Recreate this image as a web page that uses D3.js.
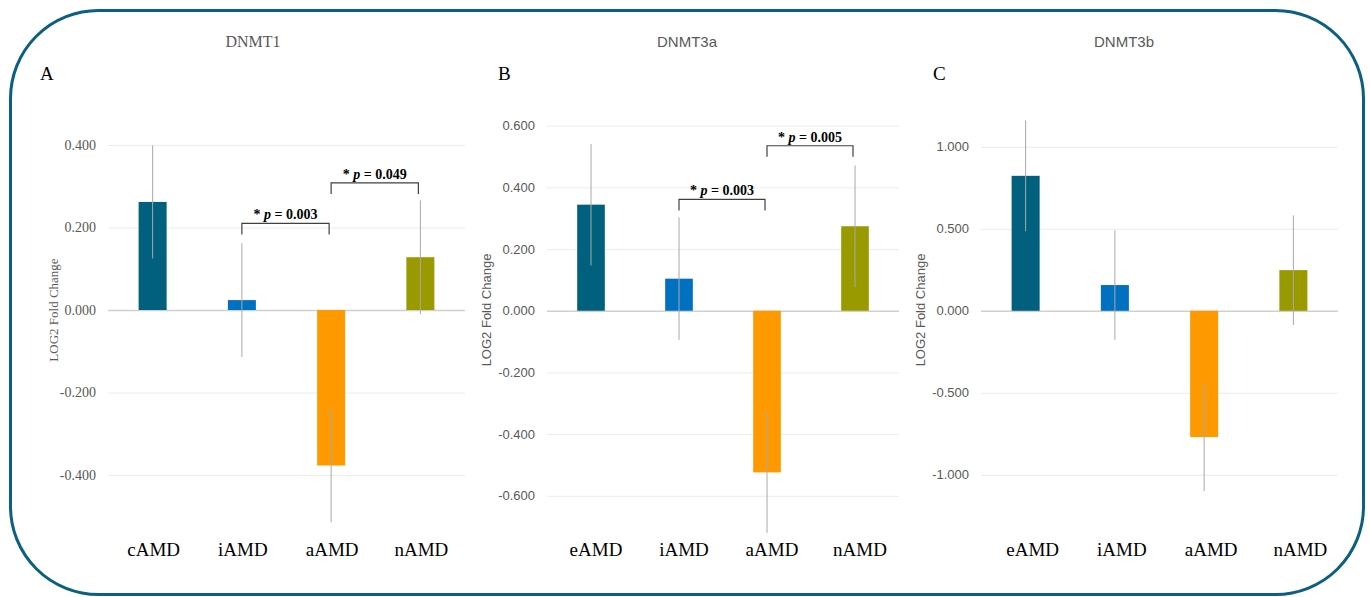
<!DOCTYPE html>
<html>
<head>
<meta charset="utf-8">
<script src="https://cdn.jsdelivr.net/npm/d3@7"></script>
<style>
  body { margin: 0; background: #fff; }
  svg { display: block; }
</style>
</head>
<body>
<svg id="chart" width="1370" height="597"></svg>
<script>
// groups (panel A uses cAMD, panels B and C use eAMD)
var groupsA = ["cAMD", "iAMD", "aAMD", "nAMD"];
var groupsBC = ["eAMD", "iAMD", "aAMD", "nAMD"];
var colors = ["#02607f", "#0070c0", "#ff9900", "#999900"];

// LOG2 fold change and error
var dnmt1 = [0.262, 0.024, -0.377, 0.128];
var dnmt1Err = [0.137, 0.138, 0.138, 0.138];
var dnmt3a = [0.344, 0.104, -0.524, 0.274];
var dnmt3aErr = [0.197, 0.199, 0.196, 0.197];
var dnmt3b = [0.823, 0.157, -0.770, 0.248];
var dnmt3bErr = [0.338, 0.334, 0.330, 0.334];

var ticksA = [-0.4, -0.2, 0, 0.2, 0.4];
var ticksB = [-0.6, -0.4, -0.2, 0, 0.2, 0.4, 0.6];
var ticksC = [-1, -0.5, 0, 0.5, 1];

var sigA = [{from: "iAMD", to: "aAMD", y: 0.21, p: "0.003"}, {from: "aAMD", to: "nAMD", y: 0.308, p: "0.049"}];
var sigB = [{from: "iAMD", to: "aAMD", y: 0.361, p: "0.003"}, {from: "aAMD", to: "nAMD", y: 0.535, p: "0.005"}];

var svg = d3.select("#chart");
var serif = "'Liberation Serif', 'Times New Roman', serif";
var sans = "'Liberation Sans', Arial, sans-serif";

// frame
svg.append("rect")
  .attr("x", 10.5).attr("y", 10.5)
  .attr("width", 1353).attr("height", 584)
  .attr("rx", 88).attr("ry", 88)
  .attr("fill", "none")
  .attr("stroke", "#0b5f80")
  .attr("stroke-width", 3);

var panels = [
  {title: "DNMT1", letter: "A", groups: groupsA, vals: dnmt1, err: dnmt1Err, ticks: ticksA, sig: sigA,
   x0: 108, x1: 465, dom: [-0.6, 0.6], rng: [557.5, 62.5], font: serif, titleX: 253, letterX: 40,
   axisX: 53, labelShift: 1},
  {title: "DNMT3a", letter: "B", groups: groupsBC, vals: dnmt3a, err: dnmt3aErr, ticks: ticksB, sig: sigB,
   x0: 547, x1: 899, dom: [-0.8, 0.6], rng: [557.5, 125.7], font: sans, titleX: 687, letterX: 498,
   axisX: 486, labelShift: 5},
  {title: "DNMT3b", letter: "C", groups: groupsBC, vals: dnmt3b, err: dnmt3bErr, ticks: ticksC, sig: [],
   x0: 981, x1: 1338, dom: [-1.5, 1.5], rng: [556.8, 64.8], font: sans, titleX: 1124, letterX: 933,
   axisX: 920, labelShift: 7}
];

panels.forEach(drawPanel);

function drawPanel(p) {
  var x = d3.scaleBand().domain(p.groups).range([p.x0, p.x1]).paddingInner(0.686).paddingOuter(0.343);
  var y = d3.scaleLinear().domain(p.dom).range(p.rng);
  var g = svg.append("g");

  // gridlines + tick labels via axis
  var axis = d3.axisLeft(y).tickValues(p.ticks).tickFormat(d3.format(".3f"))
    .tickSize(-(p.x1 - p.x0)).tickPadding(12);
  var ax = g.append("g").attr("transform", "translate(" + p.x0 + ",0)").call(axis);
  ax.select(".domain").remove();
  ax.selectAll(".tick line").attr("stroke", function(d) { return d === 0 ? "#d0d0d0" : "#ececec"; })
    .attr("stroke-width", function(d) { return d === 0 ? 1.5 : 1; });
  ax.selectAll(".tick text")
    .attr("fill", "#595959")
    .style("font-family", p.font)
    .style("font-size", p.font === serif ? "14px" : "13px")
    .text(function(d) { return d3.format(".3f")(d).replace("−", "-"); });

  // bars
  g.selectAll(".bar").data(p.vals).enter().append("rect")
    .attr("x", function(d, i) { return x(p.groups[i]); })
    .attr("y", function(d) { return y(Math.max(0, d)); })
    .attr("width", x.bandwidth())
    .attr("height", function(d) { return Math.abs(y(d) - y(0)); })
    .attr("fill", function(d, i) { return colors[i]; });

  // error bars
  g.selectAll(".err").data(p.vals).enter().append("line")
    .attr("x1", function(d, i) { return x(p.groups[i]) + x.bandwidth() / 2; })
    .attr("x2", function(d, i) { return x(p.groups[i]) + x.bandwidth() / 2; })
    .attr("y1", function(d, i) { return y(d + p.err[i]); })
    .attr("y2", function(d, i) { return y(d - p.err[i]); })
    .attr("stroke", "#a8a8a8")
    .attr("stroke-width", 1);

  // category labels
  g.selectAll(".cat").data(p.groups).enter().append("text")
    .attr("x", function(d) { return x(d) + x.bandwidth() / 2 + p.labelShift; })
    .attr("y", 556)
    .attr("text-anchor", "middle")
    .style("font-family", serif)
    .style("font-size", "19px")
    .attr("fill", "#000")
    .text(function(d) { return d; });

  // titles
  g.append("text")
    .attr("x", p.titleX).attr("y", 47)
    .attr("text-anchor", "middle")
    .attr("fill", "#595959")
    .style("font-family", p.font)
    .style("font-size", p.font === serif ? "16px" : "15px")
    .text(p.title);

  g.append("text")
    .attr("x", p.letterX).attr("y", 80)
    .style("font-family", serif)
    .style("font-size", "19px")
    .attr("fill", "#000")
    .text(p.letter);

  g.append("text")
    .attr("transform", "translate(" + (p.axisX + 5) + ",310) rotate(-90)")
    .attr("text-anchor", "middle")
    .attr("fill", "#595959")
    .style("font-family", p.font)
    .style("font-size", "13px")
    .text("LOG2 Fold Change");

  // significance brackets
  p.sig.forEach(function(s) {
    var xa = x(s.from) + x.bandwidth() / 2, xb = x(s.to) + x.bandwidth() / 2 - 2;
    var yy = y(s.y);
    g.append("path")
      .attr("d", "M" + xa + "," + (yy + 11) + "V" + yy + "H" + xb + "V" + (yy + 11))
      .attr("fill", "none")
      .attr("stroke", "#404040")
      .attr("stroke-width", 1.2);
    var t = g.append("text")
      .attr("x", (xa + xb) / 2).attr("y", yy - 4)
      .attr("text-anchor", "middle")
      .style("font-family", serif)
      .style("font-size", "14px")
      .style("font-weight", "bold")
      .attr("fill", "#000");
    t.append("tspan").text("* ");
    t.append("tspan").style("font-style", "italic").text("p");
    t.append("tspan").text(" = " + s.p);
  });
}
</script>
</body>
</html>
